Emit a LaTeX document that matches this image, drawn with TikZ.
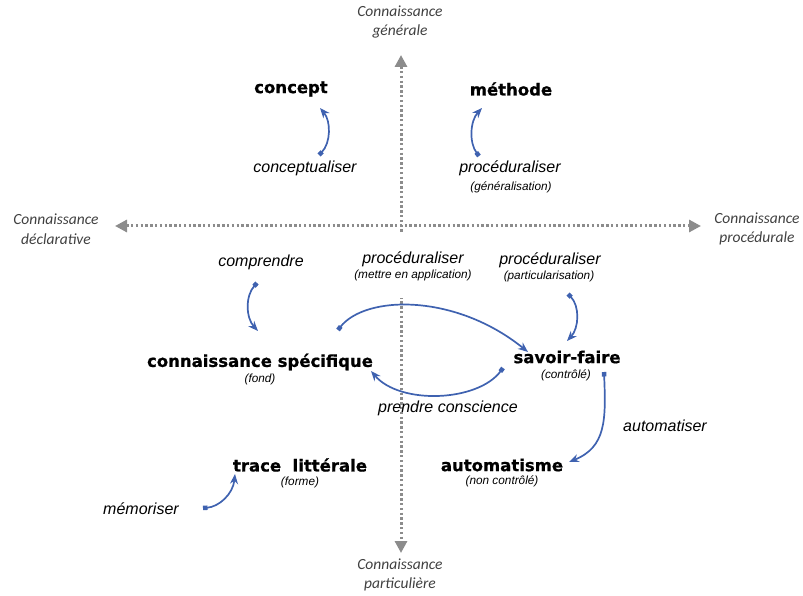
\documentclass[tikz,border=0pt]{standalone}
\usepackage{fontspec}
\setmainfont{Liberation Sans}
\newfontfamily\boldfont{DejaVu Sans}[BoldFeatures={FakeBold=0.8}]
\newfontfamily\axisfont{Carlito}
\usetikzlibrary{arrows.meta}
\definecolor{arrowblue}{HTML}{3F62B0}
\definecolor{axisgray}{HTML}{8C8C8C}
\definecolor{axistext}{HTML}{404040}
\tikzset{
  big/.style={font=\boldfont\bfseries\fontsize{16.5}{18}\selectfont, inner sep=0pt},
  sub/.style={font=\itshape\fontsize{11.8}{13}\selectfont, inner sep=0pt},
  verb/.style={font=\itshape\fontsize{16}{18}\selectfont, inner sep=0pt},
  axislabel/.style={font=\axisfont\itshape\fontsize{15.5}{19.5}\selectfont, text=axistext, align=center, inner sep=0pt},
  axisline/.style={axisgray, line width=3pt, dash pattern=on 2.4pt off 2.4pt,
    {Triangle[length=12pt,width=12pt]}-{Triangle[length=12pt,width=12pt]}},
  link/.style={arrowblue, line width=1.7pt,
    {Square[length=4.5pt,width=4.5pt]}-{Stealth[length=10pt,width=8pt]}},
}
\begin{document}
\begin{tikzpicture}[x=1pt,y=-1pt]
\useasboundingbox (0,0) rectangle (803,596);

% axes
\coordinate (axL) at (115,226);
\coordinate (axR) at (701,226);
\coordinate (axT) at (401,55);
\coordinate (axB) at (401,553);
\draw[axisline] (axL) -- (axR);
\draw[axisline] (axT) -- (axB);

% axis labels
\node[axislabel] (gen) at (400,22) {Connaissance\\générale};
\node[axislabel] (decl) at (56,229) {Connaissance\\déclarative};
\node[axislabel] (proc) at (757,229) {Connaissance\\procédurale};
\node[axislabel] (part) at (400,575) {Connaissance\\particulière};

% white patch hiding the axis behind the central label
\fill[white] (350,232) rectangle (478,298);

% main nodes
\node[big] (concept) at (291,89) {concept};
\node[big] (methode) at (511,89) {méthode};
\node[big] (cs) at (260,362) {connaissance spécifique};
\node[sub] (fond) at (260,379) {(fond)};
\node[big] (sf) at (567,357) {savoir-faire};
\node[sub] (ctrl) at (566,375) {(contrôlé)};
\node[big] (auto) at (502,465) {automatisme};
\node[sub] (nctrl) at (502,481) {(non contrôlé)};
\node[big] (trace) at (300,465) {trace\ \ littérale};
\node[sub] (forme) at (300,482) {(forme)};

% verb labels
\node[verb] (concep) at (305,168) {conceptualiser};
\node[verb] (procgen) at (510,168) {procéduraliser};
\node[sub] (gener) at (511,187) {(généralisation)};
\node[verb] (compr) at (261,262) {comprendre};
\node[verb] (procapp) at (413,259) {procéduraliser};
\node[sub] (app) at (413,275) {(mettre en application)};
\node[verb] (procpart) at (550,260) {procéduraliser};
\node[sub] (partic) at (549,276) {(particularisation)};
\node[verb] (conscience) at (448,408) {prendre conscience};
\node[verb] (automat) at (665,426) {automatiser};
\node[verb] (memo) at (141,509) {mémoriser};

% connector end points
\coordinate (c1s) at (319,155);  \coordinate (c1e) at (320,108);
\coordinate (c2s) at (479,156);  \coordinate (c2e) at (482,108);
\coordinate (c3s) at (257,283);  \coordinate (c3e) at (258,331);
\coordinate (c4s) at (568,294);  \coordinate (c4e) at (567,341);
\coordinate (c5s) at (338,330);  \coordinate (c5e) at (528,352);
\coordinate (c6s) at (503,368);  \coordinate (c6e) at (371,371);
\coordinate (c7s) at (604,372);  \coordinate (c7e) at (569,462);
\coordinate (c8s) at (203,508);  \coordinate (c8e) at (235,474);

% connectors
\draw[link] (c1s) .. controls (331,143) and (331,121) .. (c1e);
\draw[link] (c2s) .. controls (469,143) and (470,121) .. (c2e);
\draw[link] (c3s) .. controls (245,296) and (246,318) .. (c3e);
\draw[link] (c4s) .. controls (580,306) and (579,328) .. (c4e);
\draw[link] (c5s) .. controls (365,295) and (455,293) .. (c5e);
\draw[link] (c6s) .. controls (478,402) and (400,405) .. (c6e);
\draw[link] (c7s) .. controls (606,420) and (606,447) .. (c7e);
\draw[link] (c8s) .. controls (219,507) and (233,494) .. (c8e);
\end{tikzpicture}
\end{document}
